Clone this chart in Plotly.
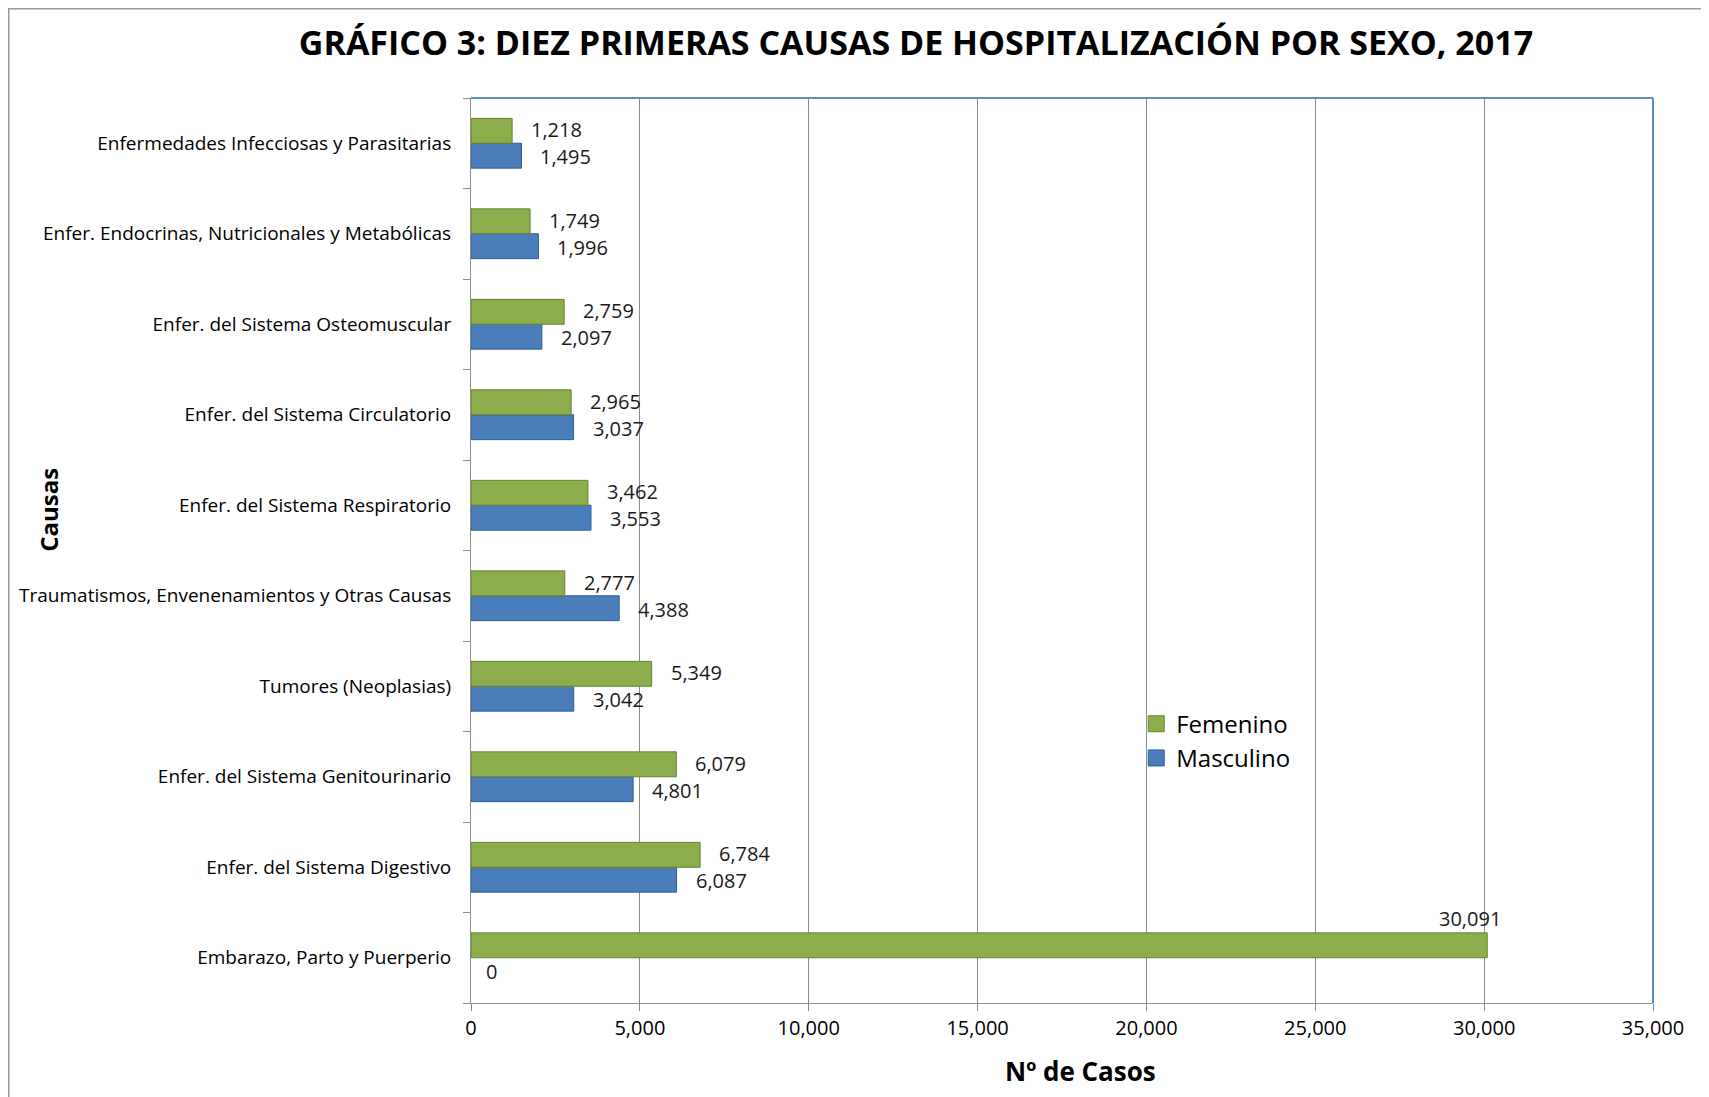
import plotly.graph_objects as go

categories = [
    "Enfermedades Infecciosas y Parasitarias",
    "Enfer. Endocrinas, Nutricionales y Metabólicas",
    "Enfer. del Sistema Osteomuscular",
    "Enfer. del Sistema Circulatorio",
    "Enfer. del Sistema Respiratorio",
    "Traumatismos, Envenenamientos y Otras Causas",
    "Tumores (Neoplasias)",
    "Enfer. del Sistema Genitourinario",
    "Enfer. del Sistema Digestivo",
    "Embarazo, Parto y Puerperio",
]
femenino = [1218, 1749, 2759, 2965, 3462, 2777, 5349, 6079, 6784, 30091]
masculino = [1495, 1996, 2097, 3037, 3553, 4388, 3042, 4801, 6087, 0]
x_ticks = [0, 5000, 10000, 15000, 20000, 25000, 30000, 35000]

FONT = "Open Sans"
GREEN = "#8BAD4C"
GREEN_D = "#66832F"
BLUE = "#4A7EBB"
BLUE_D = "#2F5D91"
GRID = "#8C8C8C"
AXBLUE = "#5B8AC6"

fig = go.Figure()
fig.add_trace(go.Bar(y=categories, x=masculino, orientation="h", name="Masculino", showlegend=False,
                     marker=dict(color=BLUE,
                                 line=dict(color=BLUE_D, width=[1 if v > 0 else 0 for v in masculino]))))
fig.add_trace(go.Bar(y=categories, x=femenino, orientation="h", name="Femenino", showlegend=False,
                     marker=dict(color=GREEN,
                                 line=dict(color=GREEN_D, width=[1 if v > 0 else 0 for v in femenino]))))
# legend entries (larger square swatches)
fig.add_trace(go.Scatter(x=[None], y=[categories[0]], mode="markers", name="Femenino",
                         marker=dict(symbol="square", size=22, color=GREEN,
                                     line=dict(color=GREEN_D, width=1))))
fig.add_trace(go.Scatter(x=[None], y=[categories[0]], mode="markers", name="Masculino",
                         marker=dict(symbol="square", size=22, color=BLUE,
                                     line=dict(color=BLUE_D, width=1))))

annotations = []
bar_off = 12.5
lab_font = dict(family=FONT, size=20, color="#1a1a1a")
xmax = max(femenino)
for cat, f, m in zip(categories, femenino, masculino):
    if f == xmax:
        annotations.append(dict(x=f, y=cat, xref="x", yref="y", text=f"{f:,}", showarrow=False,
                                xanchor="center", yanchor="middle", xshift=-17, yshift=bar_off + 27,
                                font=lab_font))
    else:
        annotations.append(dict(x=f, y=cat, xref="x", yref="y", text=f"{f:,}", showarrow=False,
                                xanchor="left", yanchor="middle", xshift=17, yshift=bar_off + 1,
                                font=lab_font))
    annotations.append(dict(x=m, y=cat, xref="x", yref="y", text=f"{m:,}", showarrow=False,
                            xanchor="left", yanchor="middle", xshift=17 if m > 0 else 13,
                            yshift=-bar_off - 1, font=lab_font))

annotations.append(dict(text="<b>Nº de Casos</b>", xref="paper", yref="paper", x=0.516, y=-0.0751,
                        showarrow=False, xanchor="center", yanchor="middle",
                        font=dict(family=FONT, size=26, color="black")))
annotations.append(dict(text="<b>Causas</b>", xref="paper", yref="paper", x=-0.357, y=0.545,
                        showarrow=False, xanchor="center", yanchor="middle", textangle=-90,
                        font=dict(family=FONT, size=24, color="black")))

W, H = 1701, 1089
L, R, T, B = 463, 56, 90, 94
pw, ph = W - L - R, H - T - B
shapes = [
    dict(type="rect", xref="paper", yref="paper",
         x0=(0.5 - L) / pw, x1=(W - 1.5 - L) / pw, y0=-(B + 10) / ph, y1=(T - 0.5) / ph + 1,
         line=dict(color="#9a9a9a", width=2), fillcolor="rgba(0,0,0,0)", layer="below"),
    dict(type="line", xref="paper", yref="paper", x0=0, x1=1, y0=1, y1=1,
         line=dict(color=AXBLUE, width=2)),
    dict(type="line", xref="paper", yref="paper", x0=1, x1=1, y0=0, y1=1,
         line=dict(color=AXBLUE, width=2)),
]

fig.update_layout(
    width=W, height=H,
    margin=dict(l=L, r=R, t=T, b=B),
    paper_bgcolor="white", plot_bgcolor="white",
    barmode="group", bargap=0.45, bargroupgap=0.0,
    title=dict(text="<b>GRÁFICO 3: DIEZ PRIMERAS CAUSAS DE HOSPITALIZACIÓN POR SEXO, 2017</b>",
               x=0.5338, y=0.968, xanchor="center", yanchor="middle",
               font=dict(family=FONT, size=34, color="black")),
    legend=dict(x=0.5628, y=0.333, xanchor="left", yanchor="top", traceorder="normal",
                font=dict(family=FONT, size=24, color="black"), bgcolor="rgba(0,0,0,0)",
                itemwidth=30, itemsizing="trace"),
    xaxis=dict(range=[0, 35000], tickvals=x_ticks, tickformat=",", showgrid=True,
               gridcolor=GRID, gridwidth=1, showline=True, linecolor=GRID, linewidth=1,
               ticks="outside", ticklen=7, tickcolor=GRID, zeroline=False,
               tickfont=dict(family=FONT, size=20, color="black")),
    yaxis=dict(categoryorder="array", categoryarray=categories[::-1], range=[-0.5, len(categories) - 0.5],
               autorange=False, showline=True,
               linecolor=GRID, linewidth=1, ticks="outside", ticklen=7, tickcolor=GRID,
               tickson="boundaries", showgrid=False, ticklabelstandoff=15,
               tickfont=dict(family=FONT, size=19, color="black")),
    annotations=annotations,
    shapes=shapes,
)

fig.write_html("out.html")
